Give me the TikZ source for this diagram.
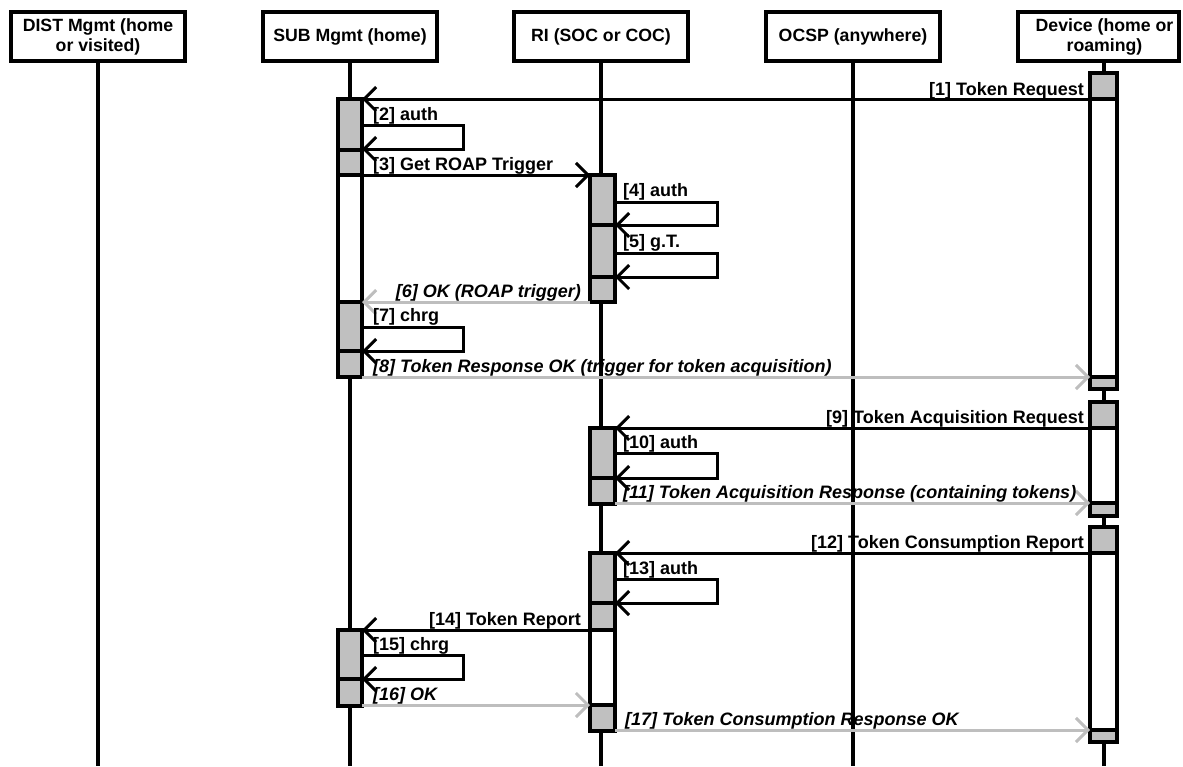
\documentclass[tikz,border=0pt]{standalone}
\usepackage{fontspec}
\setmainfont{Liberation Sans}
\usetikzlibrary{arrows.meta}
\definecolor{gfill}{RGB}{192,192,192}
\definecolor{garrow}{RGB}{190,190,190}
\begin{document}
\begin{tikzpicture}[x=1pt,y=-1pt,
  hdr/.style={draw, line width=4pt, minimum width=174pt, minimum height=49pt, align=center, inner sep=0pt, font=\bfseries\fontsize{17.7}{20}\selectfont},
  life/.style={line width=3.5pt},
  bar/.style={draw, line width=3.5pt, fill=white},
  blk/.style={draw, line width=3.5pt, fill=gfill},
  msg/.style={line width=3pt, line join=miter, -{Straight Barb[length=12pt,width=24pt]}},
  rep/.style={msg, draw=garrow},
  lbl/.style={inner sep=0pt, font=\bfseries\fontsize{18}{20}\selectfont},
  ilbl/.style={lbl, font=\bfseries\itshape\fontsize{18}{20}\selectfont}
]
\useasboundingbox (0,0) rectangle (1183,766);

% headers
\node[hdr] (dist) at (98,36.5) {DIST Mgmt (home\\or visited)};
\node[hdr] (sub) at (350,36.5) {SUB Mgmt (home)};
\node[hdr] (ri) at (601,36.5) {RI (SOC or COC)};
\node[hdr] (ocsp) at (853,36.5) {OCSP (anywhere)};
\node[hdr, minimum width=161pt] (dev) at (1098.5,36.5) {\hspace*{12pt}Device (home or\\\hspace*{12pt}roaming)};

% lifelines
\coordinate (devtop) at (1104,63);
\draw[life] (dist.south) -- ++(0,703);
\draw[life] (sub.south) -- ++(0,703);
\draw[life] (ri.south) -- ++(0,703);
\draw[life] (ocsp.south) -- ++(0,703);
\draw[life] (devtop) -- ++(0,703);

% activation bars
\path[bar] (338,99) rectangle (362,377);
\path[blk] (338,99) rectangle (362,150);
\path[blk] (338,150) rectangle (362,175);
\path[blk] (338,302) rectangle (362,351);
\path[blk] (338,351) rectangle (362,377);

\path[bar] (338,630) rectangle (362,706);
\path[blk] (338,630) rectangle (362,679);
\path[blk] (338,679) rectangle (362,706);

\path[bar] (590,175) rectangle (615,302);
\path[blk] (590,175) rectangle (615,225);
\path[blk] (590,225) rectangle (615,277);
\path[blk] (590,277) rectangle (615,302);

\path[bar] (590,428) rectangle (615,504);
\path[blk] (590,428) rectangle (615,478);
\path[blk] (590,478) rectangle (615,504);

\path[bar] (590,553) rectangle (615,731);
\path[blk] (590,553) rectangle (615,603);
\path[blk] (590,603) rectangle (615,630);
\path[blk] (590,705) rectangle (615,731);

\path[bar] (1090,73) rectangle (1117,389);
\path[blk] (1090,73) rectangle (1117,99);
\path[blk] (1090,377) rectangle (1117,389);

\path[bar] (1090,402) rectangle (1117,516);
\path[blk] (1090,402) rectangle (1117,428);
\path[blk] (1090,503) rectangle (1117,516);

\path[bar] (1090,527) rectangle (1117,742);
\path[blk] (1090,527) rectangle (1117,553);
\path[blk] (1090,730) rectangle (1117,742);

% loop extents
\coordinate (loopS) at (463,0);
\coordinate (loopR) at (717,0);

% message end points
\coordinate (m1a) at (1090,99);  \coordinate (m1b) at (362,99);
\coordinate (m2a) at (362,125);  \coordinate (m2b) at (362,149);
\coordinate (m3a) at (362,175);  \coordinate (m3b) at (590,175);
\coordinate (m4a) at (615,202);  \coordinate (m4b) at (615,225);
\coordinate (m5a) at (615,253);  \coordinate (m5b) at (615,277);
\coordinate (m6a) at (590,302);  \coordinate (m6b) at (362,302);
\coordinate (m7a) at (362,327);  \coordinate (m7b) at (362,351);
\coordinate (m8a) at (362,377);  \coordinate (m8b) at (1090,377);
\coordinate (m9a) at (1090,428); \coordinate (m9b) at (615,428);
\coordinate (m10a) at (615,453); \coordinate (m10b) at (615,478);
\coordinate (m11a) at (615,503); \coordinate (m11b) at (1090,503);
\coordinate (m12a) at (1090,553); \coordinate (m12b) at (615,553);
\coordinate (m13a) at (615,579); \coordinate (m13b) at (615,603);
\coordinate (m14a) at (590,630); \coordinate (m14b) at (362,630);
\coordinate (m15a) at (362,655); \coordinate (m15b) at (362,679);
\coordinate (m16a) at (362,705); \coordinate (m16b) at (590,705);
\coordinate (m17a) at (615,730); \coordinate (m17b) at (1090,730);

% messages
\draw[msg] (m1a) -- (m1b);
\draw[msg] (m2a) -- (m2a -| loopS) -- (m2b -| loopS) -- (m2b);
\draw[msg] (m3a) -- (m3b);
\draw[msg] (m4a) -- (m4a -| loopR) -- (m4b -| loopR) -- (m4b);
\draw[msg] (m5a) -- (m5a -| loopR) -- (m5b -| loopR) -- (m5b);
\draw[rep] (m6a) -- (m6b);
\draw[msg] (m7a) -- (m7a -| loopS) -- (m7b -| loopS) -- (m7b);
\draw[rep] (m8a) -- (m8b);
\draw[msg] (m9a) -- (m9b);
\draw[msg] (m10a) -- (m10a -| loopR) -- (m10b -| loopR) -- (m10b);
\draw[rep] (m11a) -- (m11b);
\draw[msg] (m12a) -- (m12b);
\draw[msg] (m13a) -- (m13a -| loopR) -- (m13b -| loopR) -- (m13b);
\draw[msg] (m14a) -- (m14b);
\draw[msg] (m15a) -- (m15a -| loopS) -- (m15b -| loopS) -- (m15b);
\draw[rep] (m16a) -- (m16b);
\draw[rep] (m17a) -- (m17b);

% labels
\node[lbl, anchor=base east] (l1) at (1084,95) {[1] Token Request};
\node[lbl, anchor=base west] (l2) at (373,120) {[2] auth};
\node[lbl, anchor=base west] (l3) at (373,170) {[3] Get ROAP Trigger};
\node[lbl, anchor=base west] (l4) at (623,196) {[4] auth};
\node[lbl, anchor=base west] (l5) at (623,247) {[5] g.T.};
\node[ilbl, anchor=base east] (l6) at (581,297) {[6] OK (ROAP trigger)};
\node[lbl, anchor=base west] (l7) at (373,321) {[7] chrg};
\node[ilbl, anchor=base west] (l8) at (373,372) {[8] Token Response OK (trigger for token acquisition)};
\node[lbl, anchor=base east] (l9) at (1084,423) {[9] Token Acquisition Request};
\node[lbl, anchor=base west] (l10) at (623,448) {[10] auth};
\node[ilbl, anchor=base west] (l11) at (623,498) {[11] Token Acquisition Response (containing tokens)};
\node[lbl, anchor=base east] (l12) at (1084,548) {[12] Token Consumption Report};
\node[lbl, anchor=base west] (l13) at (623,574) {[13] auth};
\node[lbl, anchor=base east] (l14) at (581,625) {[14] Token Report};
\node[lbl, anchor=base west] (l15) at (373,650) {[15] chrg};
\node[ilbl, anchor=base west] (l16) at (373,700) {[16] OK};
\node[ilbl, anchor=base west] (l17) at (625,725) {[17] Token Consumption Response OK};
\end{tikzpicture}
\end{document}
